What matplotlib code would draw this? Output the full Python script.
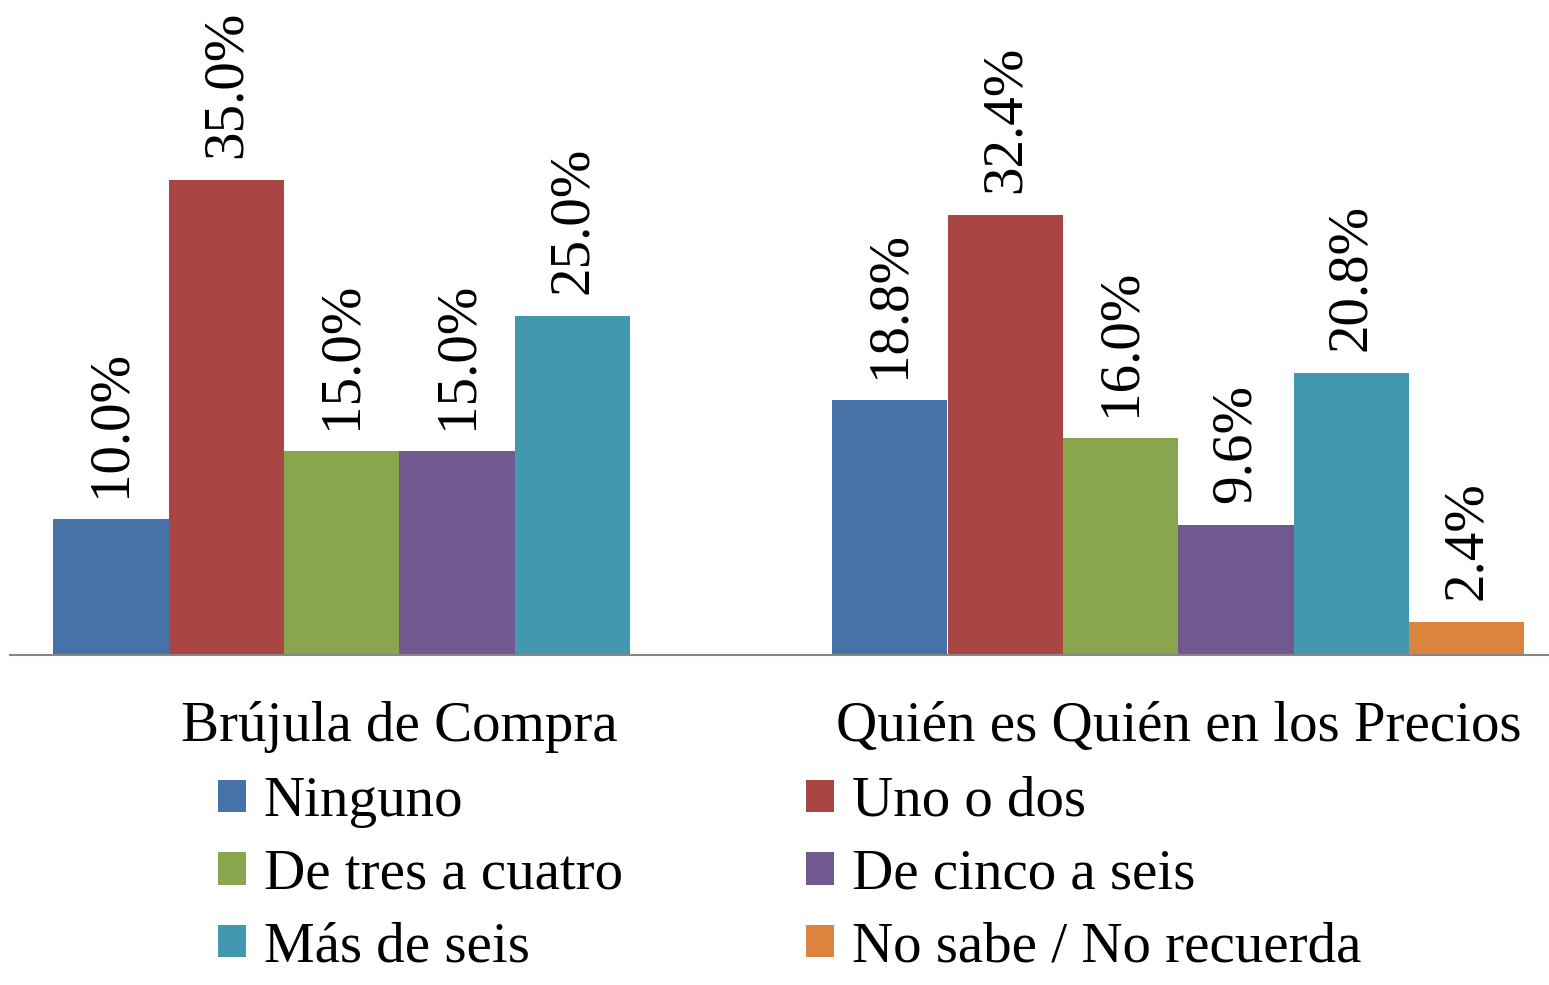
import numpy as np
import matplotlib.pyplot as plt

plt.rcParams['font.family'] = ['Liberation Serif', 'DejaVu Serif']

# Datos

categorias = ["Brújula de Compra", "Quién es Quién en los Precios"]
series = ["Ninguno", "Uno o dos", "De tres a cuatro", "De cinco a seis",
          "Más de seis", "No sabe / No recuerda"]
ninguno = [10.0, 18.8]
uno_dos = [35.0, 32.4]
tres_cuatro = [15.0, 16.0]
cinco_seis = [15.0, 9.6]
mas_seis = [25.0, 20.8]
no_sabe = [np.nan, 2.4]

valores = [ninguno, uno_dos, tres_cuatro, cinco_seis, mas_seis, no_sabe]
colores = ["#4672A7", "#A94644", "#89A54E", "#71588F", "#4198AF", "#DB843D"]

W, H = 1549, 985
fs = 41

fig = plt.figure(figsize=(W / 100, H / 100), dpi=100)
ax = fig.add_axes([10 / W, (H - 655) / H, 1 - 10 / W, 655 / H])

x = np.arange(len(categorias))
w = 1 / 6.75
barras = []
for i, (vals, c) in enumerate(zip(valores, colores)):
    pos = x - 3 * w + (i + 0.5) * w
    b = ax.bar(pos, np.nan_to_num(vals), width=w, color=c, label=series[i])
    barras.append(b)
    for xp, v in zip(pos, vals):
        if np.isnan(v):
            continue
        ax.annotate("%.1f%%" % v, (xp, v), xytext=(0, 16), textcoords="offset points",
                    rotation=90, ha="center", va="bottom", fontsize=fs)

ax.set_xlim(-0.5, 1.476)
ax.set_ylim(0, 655 / 13.57)
for s in ["left", "right", "top"]:
    ax.spines[s].set_visible(False)
ax.spines["bottom"].set_color("#868686")
ax.spines["bottom"].set_linewidth(1.5)
ax.set_yticks([])
ax.set_xticks(x)
ax.set_xticklabels(categorias, fontsize=fs)
ax.tick_params(axis="x", length=0, pad=33)

# Leyenda en dos columnas
col1 = [0, 2, 4]
col2 = [1, 3, 5]
for cols, x0 in [(col1, 218), (col2, 806)]:
    leg = fig.legend([barras[i] for i in cols], [series[i] for i in cols],
                     loc="upper left", bbox_to_anchor=(x0 / W, 1 - 776 / H),
                     frameon=False, fontsize=fs, borderpad=0, borderaxespad=0,
                     handlelength=0.5, handleheight=0.5, handletextpad=0.3,
                     labelspacing=0.36)

fig.savefig("out.png", dpi=100)
